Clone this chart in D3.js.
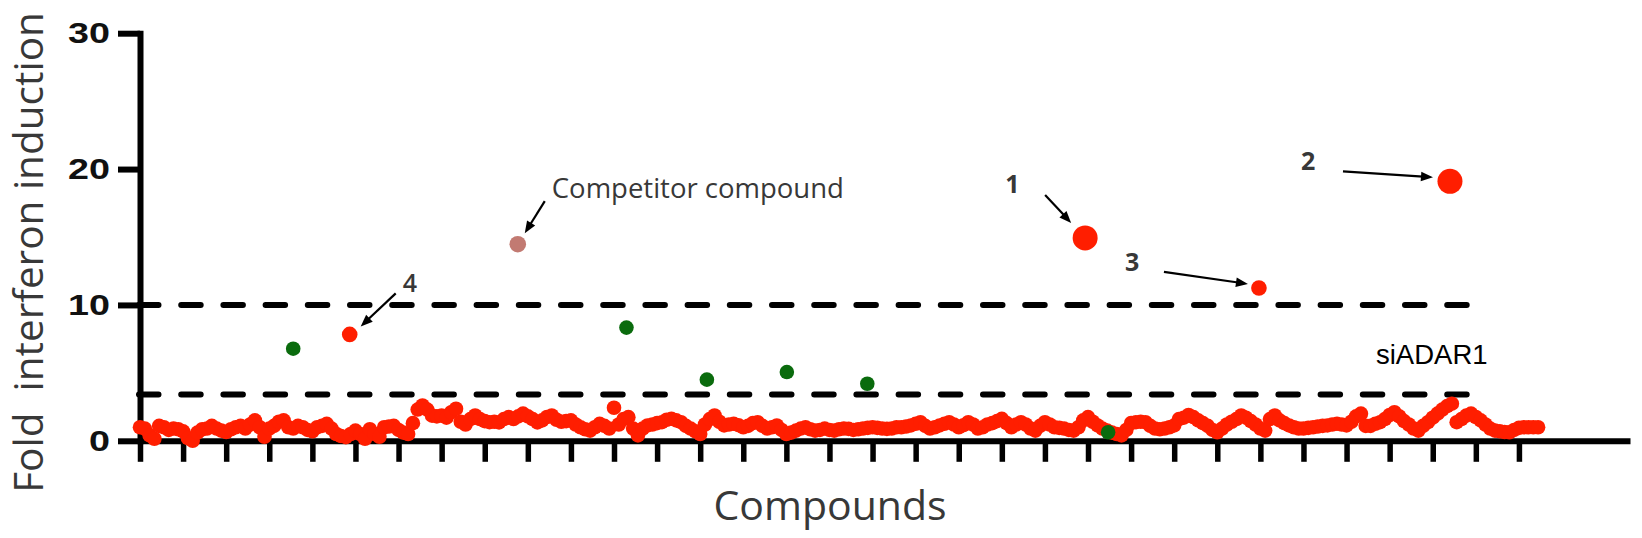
<!DOCTYPE html>
<html><head><meta charset="utf-8">
<script src="https://cdn.jsdelivr.net/npm/d3@7"></script>
<style>
html,body{margin:0;padding:0;background:#fff;}
svg{display:block;}
</style></head><body>
<svg id="chart" width="1642" height="538"></svg>
<script>
// ---------------- data ----------------
const yTicks = [0, 10, 20, 30];
const xTicks = [0,9,18,27,36,45,54,63,72,81,90,99,108,117,126,135,144,153,162,171,180,189,198,207,216,225,234,243,252,261,270,279,288];
const screenValues = [
  1.0, 0.9, 0.4, 0.15, 1.1, 1.0, 0.8, 0.9, 0.85, 0.7,
  0.2, 0.0, 0.6, 0.85, 0.9, 1.1, 0.9, 0.75, 0.65, 0.85,
  1.0, 1.1, 0.9, 1.2, 1.5, 1.0, 0.3, 0.9, 1.1, 1.4,
  1.5, 1.0, 0.9, 1.1, 1.0, 0.8, 0.7, 1.0, 1.1, 1.25,
  0.9, 0.5, 0.35, 0.27, 0.5, 0.75, 0.5, 0.15, 0.85, 0.5,
  0.3, 1.0, 1.05, 1.1, 0.8, 0.6, 0.5, 1.3, 2.3, 2.6,
  2.3, 1.85, 1.8, 1.85, 1.7, 2.1, 2.36, 1.4, 1.2, 1.6,
  1.86, 1.6, 1.45, 1.37, 1.4, 1.35, 1.6, 1.74, 1.6, 1.8,
  2.0, 1.8, 1.6, 1.35, 1.5, 1.75, 1.86, 1.55, 1.4, 1.45,
  1.5, 1.2, 1.0, 0.85, 0.75, 1.0, 1.25, 1.1, 0.9, 2.43,
  1.2, 1.6, 1.74, 0.9, 0.4, 0.9, 1.13, 1.2, 1.3, 1.37,
  1.55, 1.62, 1.5, 1.37, 1.1, 0.9, 0.7, 0.5, 1.2, 1.6,
  1.86, 1.4, 1.13, 1.2, 1.25, 1.15, 1.0, 1.1, 1.3, 1.37,
  1.1, 0.9, 1.0, 1.13, 0.8, 0.5, 0.6, 0.75, 0.9, 1.0,
  0.85, 0.75, 0.8, 0.9, 0.8, 0.75, 0.85, 0.9, 0.88, 0.8,
  0.85, 0.9, 0.95, 1.0, 0.95, 0.9, 0.88, 0.9, 1.0, 1.0,
  1.05, 1.13, 1.25, 1.37, 1.1, 0.9, 1.0, 1.13, 1.25, 1.37,
  1.2, 1.0, 1.15, 1.37, 1.2, 0.9, 1.0, 1.2, 1.3, 1.45,
  1.62, 1.3, 1.0, 1.2, 1.37, 1.2, 0.9, 0.75, 1.1, 1.37,
  1.2, 1.0, 0.95, 0.9, 0.8, 0.75, 1.0, 1.5, 1.74, 1.4,
  1.13, 0.9, 0.75, 0.6, 0.5, 0.4, 0.8, 1.3, 1.37, 1.4,
  1.37, 1.1, 0.9, 0.85, 0.9, 1.0, 1.13, 1.6, 1.7, 1.9,
  1.74, 1.5, 1.3, 1.1, 0.8, 0.63, 0.9, 1.2, 1.4, 1.6,
  1.86, 1.7, 1.45, 1.2, 0.9, 0.75, 1.6, 1.86, 1.5, 1.3,
  1.13, 1.0, 0.9, 0.9, 0.95, 1.0, 1.05, 1.1, 1.13, 1.2,
  1.25, 1.2, 1.13, 1.4, 1.8, 2.0, 1.1, 1.1, 1.25, 1.37,
  1.6, 1.9, 2.1, 1.8, 1.45, 1.2, 0.9, 0.75, 1.1, 1.37,
  1.7, 2.0, 2.3, 2.55, 2.73, 1.37, 1.6, 1.85, 2.0, 1.75,
  1.5, 1.2, 0.9, 0.75, 0.7, 0.65, 0.63, 0.8, 0.95, 1.0,
  1.0, 1.0, 1.0
];
const greenIndex  = [32.0, 101.6, 118.4, 135.1, 151.9, 202.2];
const greenValues = [6.78, 8.33, 4.5, 5.06, 4.2, 0.63];
const hitLabels = ["1", "2", "3", "4"];
const hitIndex  = [197.4, 273.6, 233.7, 43.8];
const hitValues = [14.93, 19.1, 11.25, 7.83];
const competitorLabel = "Competitor compound";
const competitorIndex = 78.9;
const competitorValue = 14.47;
const thresholds = [10, 3.4];
const thresholdLabel = "siADAR1";
const xTitle = "Compounds";
const yTitle = "Fold  interferon induction";

// ---------------- layout / style ----------------
const RED = "#ff1e00", GREEN = "#0a6b0d", COMP = "#c27a72", TXT = "#383838";
const hitStyle = {
  "1": {r: 12.5, label: [-80, -45], weight: 700, arrow: [[-40, -43], [-14, -15]]},
  "2": {r: 12.5, label: [-149, -11], weight: 700, arrow: [[-107, -10], [-17, -4]]},
  "3": {r: 7.8, label: [-134, -17], weight: 700, arrow: [[-95, -16], [-11, -4]]},
  "4": {r: 7.8, label: [53, -42], weight: 600, arrow: [[46, -41], [11, -8]]}
};
const compStyle = {r: 8.3, label: [34, -46], arrow: [[27, -43], [7, -11]]};

const svg = d3.select("#chart");
svg.append("rect").attr("width", 1642).attr("height", 538).attr("fill", "#fff");

const x = d3.scaleLinear().domain([0, 311.2]).range([140, 1630]);
const y = d3.scaleLinear().domain([0, 30]).range([440.8, 33.2]);

// threshold lines
svg.append("g").selectAll("line").data(thresholds).join("line")
  .attr("x1", 139).attr("x2", 1467)
  .attr("y1", d => y(d)).attr("y2", d => y(d))
  .attr("stroke", "#000").attr("stroke-width", 6)
  .attr("stroke-linecap", "round").attr("stroke-dasharray", "19.5,22.7");

svg.append("text").text(thresholdLabel)
  .attr("x", 1376).attr("y", 364)
  .attr("font-family", "'Liberation Sans', Arial, sans-serif")
  .attr("font-size", 27.5).attr("fill", "#000");

// axes
const SX = 1.3;
const gy = svg.append("g").attr("transform", "translate(140,0)")
  .call(d3.axisLeft(y).tickValues(yTicks).tickSize(22).tickSizeOuter(0).tickPadding(8));
gy.select(".domain").attr("stroke-width", 6).attr("stroke-linecap", "square");
gy.selectAll(".tick line").attr("stroke-width", 6);
gy.selectAll(".tick text")
  .attr("x", -30 / SX).attr("transform", `scale(${SX},1)`)
  .attr("font-family", "'Liberation Sans', Arial, sans-serif")
  .attr("font-weight", "bold").attr("font-size", 29).attr("fill", "#111");

const gx = svg.append("g").attr("transform", `translate(0,${y(0)})`)
  .call(d3.axisBottom(x).tickValues(xTicks).tickSize(21).tickSizeOuter(0).tickFormat(""));
gx.select(".domain").attr("stroke-width", 6);
gx.selectAll(".tick line").attr("stroke-width", 5.5);

// red screen
svg.append("g").selectAll("circle").data(screenValues).join("circle")
  .attr("cx", (d, i) => x(i)).attr("cy", d => y(d))
  .attr("r", 7.3).attr("fill", RED);

// green points
svg.append("g").selectAll("circle").data(greenIndex).join("circle")
  .attr("cx", d => x(d)).attr("cy", (d, i) => y(greenValues[i]))
  .attr("r", 7.3).attr("fill", GREEN);

// arrow helper
function arrow(x1, y1, x2, y2) {
  const ang = Math.atan2(y2 - y1, x2 - x1);
  const L = 12, W = 4.8;
  const bx = x2 - L * Math.cos(ang), by = y2 - L * Math.sin(ang);
  svg.append("line").attr("x1", x1).attr("y1", y1).attr("x2", bx + 2 * Math.cos(ang)).attr("y2", by + 2 * Math.sin(ang))
    .attr("stroke", "#000").attr("stroke-width", 2.2);
  const px = -Math.sin(ang) * W, py = Math.cos(ang) * W;
  svg.append("path")
    .attr("d", `M${x2},${y2}L${bx + px},${by + py}L${bx - px},${by - py}Z`)
    .attr("fill", "#000");
}

// hits
hitLabels.forEach((lab, i) => {
  const s = hitStyle[lab];
  const cx = x(hitIndex[i]), cy = y(hitValues[i]);
  svg.append("circle").attr("cx", cx).attr("cy", cy).attr("r", s.r).attr("fill", RED);
  arrow(cx + s.arrow[0][0], cy + s.arrow[0][1], cx + s.arrow[1][0], cy + s.arrow[1][1]);
  svg.append("text").text(lab)
    .attr("x", cx + s.label[0]).attr("y", cy + s.label[1])
    .attr("font-family", "'Open Sans', 'Noto Sans', sans-serif")
    .attr("font-weight", s.weight).attr("font-size", 25).attr("fill", TXT);
});

// competitor
{
  const cx = x(competitorIndex), cy = y(competitorValue);
  svg.append("circle").attr("cx", cx).attr("cy", cy).attr("r", compStyle.r).attr("fill", COMP);
  arrow(cx + compStyle.arrow[0][0], cy + compStyle.arrow[0][1], cx + compStyle.arrow[1][0], cy + compStyle.arrow[1][1]);
  svg.append("text").text(competitorLabel)
    .attr("x", cx + compStyle.label[0]).attr("y", cy + compStyle.label[1])
    .attr("font-family", "'Open Sans', 'Noto Sans', sans-serif")
    .attr("font-size", 27.5).attr("fill", TXT);
}

// titles
svg.append("text").text(xTitle)
  .attr("x", 830).attr("y", 520).attr("text-anchor", "middle")
  .attr("font-family", "'Open Sans', 'Noto Sans', sans-serif")
  .attr("font-size", 41).attr("fill", TXT);

svg.append("text").text(yTitle)
  .attr("transform", "translate(43,252.5) rotate(-90)")
  .attr("text-anchor", "middle")
  .style("white-space", "pre")
  .attr("font-family", "'Open Sans', 'Noto Sans', sans-serif")
  .attr("font-size", 40.5).attr("fill", TXT);
</script>
</body></html>
